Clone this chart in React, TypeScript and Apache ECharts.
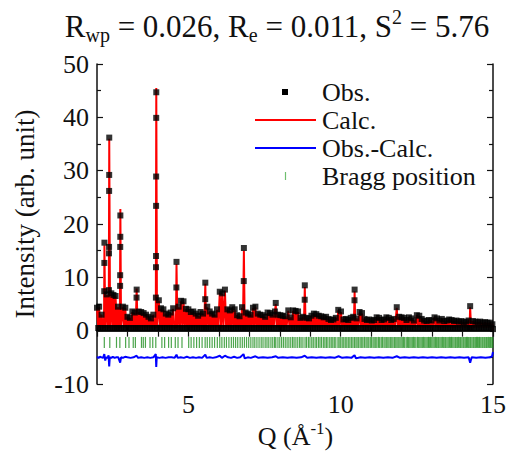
import React, { useEffect, useRef } from 'react';
import * as echarts from 'echarts';

const FONT = "'Liberation Serif', 'Times New Roman', serif";

const xRange = [2, 15];
const yRange = [-10, 50];
const xLabelValues = [5, 10, 15];
const braggLevel = -2.2;

// Observed intensity [Q, I]
const obsPoints: number[][] = [
  [2.00, 4.3], [2.04, 0.5], [2.07, 4.5], [2.11, 0.5], [2.15, 3.0], [2.19, 0.5],
  [2.238, 7.4], [2.241, 12.7], [2.244, 16.5], [2.27, 0.5],
  [2.32, 6.8], [2.35, 0.5],
  [2.392, 7.6], [2.394, 14.5], [2.396, 15.7], [2.398, 26.2], [2.400, 29.2], [2.402, 36.2], [2.43, 0.5],
  [2.47, 7.0], [2.51, 0.5], [2.54, 6.7], [2.58, 0.5], [2.61, 6.5], [2.65, 0.5], [2.69, 4.5], [2.72, 0.5],
  [2.759, 8.4], [2.761, 10.4], [2.763, 15.7], [2.765, 17.6], [2.767, 21.6], [2.79, 0.5],
  [2.85, 4.5], [2.89, 0.5], [2.93, 4.3], [2.96, 0.5], [3.00, 2.6], [3.04, 0.5], [3.08, 2.4], [3.12, 0.5],
  [3.16, 3.6], [3.20, 0.5], [3.24, 3.4], [3.27, 0.5],
  [3.298, 6.2], [3.302, 7.7], [3.33, 0.5],
  [3.37, 3.6], [3.41, 0.5], [3.45, 3.5], [3.49, 0.5], [3.53, 3.3], [3.57, 0.5], [3.61, 3.0], [3.65, 0.5],
  [3.69, 2.6], [3.73, 0.5], [3.77, 2.3], [3.81, 0.5], [3.85, 3.0], [3.89, 0.5],
  [3.934, 6.2], [3.936, 11.9], [3.938, 14.0], [3.940, 23.4], [3.942, 28.9], [3.944, 39.9], [3.946, 44.7], [3.97, 0.5],
  [4.03, 5.7], [4.07, 0.5], [4.10, 4.2], [4.14, 0.5], [4.18, 4.0], [4.22, 0.5], [4.26, 3.2], [4.30, 0.5],
  [4.34, 3.0], [4.38, 0.5], [4.42, 3.4], [4.46, 0.5], [4.50, 4.2], [4.54, 0.5],
  [4.606, 8.1], [4.610, 12.9], [4.64, 0.5],
  [4.68, 4.5], [4.72, 0.5], [4.76, 5.6], [4.80, 0.5], [4.84, 5.5], [4.88, 0.5], [4.92, 4.1], [4.96, 0.5],
  [5.00, 4.0], [5.04, 0.5], [5.08, 3.5], [5.12, 0.5], [5.16, 3.6], [5.20, 0.5], [5.24, 3.2], [5.28, 0.5],
  [5.32, 2.8], [5.36, 0.5], [5.40, 3.5], [5.44, 0.5], [5.48, 3.2], [5.52, 0.5],
  [5.553, 5.9], [5.556, 9.0], [5.58, 0.5],
  [5.62, 4.5], [5.66, 0.5], [5.70, 3.6], [5.74, 0.5], [5.78, 3.2], [5.82, 0.5], [5.86, 3.0], [5.90, 0.5],
  [5.94, 4.0], [5.98, 0.5], [6.03, 7.3], [6.07, 0.5], [6.11, 7.0], [6.15, 0.5], [6.20, 7.7], [6.24, 0.5],
  [6.28, 4.0], [6.32, 0.5], [6.36, 3.8], [6.40, 0.5], [6.44, 4.4], [6.48, 0.5], [6.52, 4.0], [6.56, 0.5],
  [6.60, 2.9], [6.64, 0.5], [6.68, 2.7], [6.72, 0.5], [6.76, 4.4], [6.79, 0.5],
  [6.818, 9.3], [6.822, 15.5], [6.85, 0.5],
  [6.88, 3.4], [6.92, 0.5], [6.96, 3.2], [7.00, 0.5], [7.04, 3.0], [7.08, 0.5], [7.12, 4.3], [7.16, 0.5],
  [7.20, 4.5], [7.24, 0.5], [7.28, 3.2], [7.32, 0.5], [7.36, 3.0], [7.40, 0.5], [7.44, 2.9], [7.48, 0.5],
  [7.52, 2.6], [7.56, 0.5], [7.60, 3.4], [7.64, 0.5], [7.68, 3.3], [7.72, 0.5], [7.76, 3.0], [7.80, 0.5],
  [7.84, 3.6], [7.868, 5.2], [7.90, 0.5], [7.94, 3.0], [7.98, 0.5], [8.02, 2.9], [8.06, 0.5], [8.10, 2.8],
  [8.14, 0.5], [8.18, 2.7], [8.22, 0.5], [8.28, 3.8], [8.32, 0.5], [8.36, 2.5], [8.40, 0.5], [8.44, 3.8],
  [8.48, 0.5], [8.52, 3.7], [8.56, 0.5], [8.60, 3.6], [8.64, 0.5], [8.68, 2.4], [8.72, 0.5], [8.76, 2.6], [8.79, 0.5],
  [8.818, 5.8], [8.822, 8.5], [8.85, 0.5],
  [8.88, 2.4], [8.92, 0.5], [8.96, 2.3], [9.00, 0.5], [9.04, 2.8], [9.08, 0.5], [9.12, 3.2], [9.16, 0.5],
  [9.20, 3.1], [9.24, 0.5], [9.28, 2.8], [9.32, 0.5], [9.36, 2.7], [9.40, 0.5], [9.44, 2.5], [9.48, 0.5],
  [9.52, 2.6], [9.56, 0.5], [9.60, 2.2], [9.64, 0.5], [9.68, 2.0], [9.72, 0.5], [9.76, 2.1], [9.80, 0.5],
  [9.84, 2.4], [9.88, 0.5], [9.92, 3.9], [9.96, 0.5], [10.01, 3.6], [10.05, 0.5], [10.09, 2.1], [10.13, 0.5],
  [10.17, 2.2], [10.21, 0.5], [10.25, 2.0], [10.29, 0.5], [10.33, 2.4], [10.37, 0.5], [10.41, 2.6], [10.43, 0.5],
  [10.453, 5.7], [10.457, 7.7], [10.48, 0.5],
  [10.52, 2.3], [10.56, 0.5], [10.62, 3.5], [10.66, 0.5], [10.70, 3.3], [10.74, 0.5], [10.78, 2.2], [10.82, 0.5],
  [10.86, 2.0], [10.90, 0.5], [10.94, 2.1], [10.98, 0.5], [11.02, 1.9], [11.06, 0.5], [11.10, 2.0], [11.14, 0.5],
  [11.18, 2.5], [11.22, 0.5], [11.26, 2.4], [11.30, 0.5], [11.34, 2.0], [11.38, 0.5], [11.42, 2.1], [11.46, 0.5],
  [11.50, 2.5], [11.54, 0.5], [11.58, 2.4], [11.62, 0.5], [11.66, 2.0], [11.70, 0.5], [11.74, 2.2], [11.78, 0.5],
  [11.84, 4.4], [11.88, 0.5], [11.92, 2.6], [11.96, 0.5], [12.00, 2.5], [12.04, 0.5], [12.08, 2.4], [12.12, 0.5],
  [12.16, 2.0], [12.20, 0.5], [12.24, 2.5], [12.28, 0.5], [12.32, 2.3], [12.36, 0.5], [12.40, 1.9], [12.44, 0.5],
  [12.50, 2.9], [12.54, 0.5], [12.58, 2.8], [12.62, 0.5], [12.66, 2.2], [12.70, 0.5], [12.74, 1.9], [12.78, 0.5],
  [12.82, 1.8], [12.86, 0.5], [12.90, 2.0], [12.94, 0.5], [12.98, 1.9], [13.02, 0.5], [13.08, 2.5], [13.12, 0.5],
  [13.16, 2.3], [13.20, 0.5], [13.24, 1.9], [13.28, 0.5], [13.32, 2.2], [13.36, 0.5], [13.40, 1.8], [13.44, 0.5],
  [13.48, 1.9], [13.52, 0.5], [13.56, 2.1], [13.60, 0.5], [13.64, 2.0], [13.68, 0.5], [13.72, 1.8], [13.76, 0.5],
  [13.80, 1.9], [13.84, 0.5], [13.88, 1.7], [13.92, 0.5], [13.96, 1.8], [14.00, 0.5], [14.04, 1.6], [14.08, 0.5],
  [14.12, 1.7], [14.16, 0.5], [14.20, 1.9], [14.23, 0.5], [14.25, 4.6], [14.28, 0.5], [14.34, 1.8], [14.38, 0.5],
  [14.42, 1.7], [14.46, 0.5], [14.50, 1.6], [14.54, 0.5], [14.58, 1.7], [14.62, 0.5], [14.66, 1.5], [14.70, 0.5],
  [14.74, 1.6], [14.78, 0.5], [14.82, 1.5], [14.86, 0.5], [14.90, 1.5], [14.94, 0.5], [14.98, 1.2], [15.00, 0.3],
];

// Calculated profile [Q, I]
const calcPoints: number[][] = [
  [2.00, 4.2], [2.04, 0.6], [2.07, 4.4], [2.11, 0.6], [2.15, 3.0], [2.19, 0.6],
  [2.23, 0.6], [2.244, 16.0], [2.27, 0.6],
  [2.32, 6.7], [2.35, 0.6],
  [2.385, 0.6], [2.402, 36.0], [2.43, 0.6],
  [2.47, 6.9], [2.51, 0.6], [2.54, 6.6], [2.58, 0.6], [2.61, 6.4], [2.65, 0.6], [2.69, 4.4], [2.72, 0.6],
  [2.75, 0.6], [2.767, 22.8], [2.79, 0.6],
  [2.85, 4.4], [2.89, 0.6], [2.93, 4.2], [2.96, 0.6], [3.00, 2.6], [3.04, 0.6], [3.08, 2.4], [3.12, 0.6],
  [3.16, 3.5], [3.20, 0.6], [3.24, 3.3], [3.27, 0.6],
  [3.302, 7.9], [3.33, 0.6],
  [3.37, 3.5], [3.41, 0.6], [3.45, 3.4], [3.49, 0.6], [3.53, 3.3], [3.57, 0.6], [3.61, 3.0], [3.65, 0.6],
  [3.69, 2.6], [3.73, 0.6], [3.77, 2.3], [3.81, 0.6], [3.85, 3.0], [3.89, 0.6],
  [3.93, 0.6], [3.946, 45.5], [3.97, 0.6],
  [4.03, 5.6], [4.07, 0.6], [4.10, 4.1], [4.14, 0.6], [4.18, 3.9], [4.22, 0.6], [4.26, 3.2], [4.30, 0.6],
  [4.34, 3.0], [4.38, 0.6], [4.42, 3.3], [4.46, 0.6], [4.50, 4.1], [4.54, 0.6],
  [4.59, 0.6], [4.610, 12.5], [4.64, 0.6],
  [4.68, 4.4], [4.72, 0.6], [4.76, 5.5], [4.80, 0.6], [4.84, 5.4], [4.88, 0.6], [4.92, 4.0], [4.96, 0.6],
  [5.00, 3.9], [5.04, 0.6], [5.08, 3.5], [5.12, 0.6], [5.16, 3.5], [5.20, 0.6], [5.24, 3.2], [5.28, 0.6],
  [5.32, 2.8], [5.36, 0.6], [5.40, 3.4], [5.44, 0.6], [5.48, 3.2], [5.52, 0.6],
  [5.556, 8.8], [5.58, 0.6],
  [5.62, 4.4], [5.66, 0.6], [5.70, 3.5], [5.74, 0.6], [5.78, 3.2], [5.82, 0.6], [5.86, 3.0], [5.90, 0.6],
  [5.94, 3.9], [5.98, 0.6], [6.03, 7.1], [6.07, 0.6], [6.11, 6.9], [6.15, 0.6], [6.20, 7.5], [6.24, 0.6],
  [6.28, 3.9], [6.32, 0.6], [6.36, 3.7], [6.40, 0.6], [6.44, 4.3], [6.48, 0.6], [6.52, 3.9], [6.56, 0.6],
  [6.60, 2.9], [6.64, 0.6], [6.68, 2.7], [6.72, 0.6], [6.76, 4.3], [6.79, 0.6],
  [6.822, 15.0], [6.85, 0.6],
  [6.88, 3.3], [6.92, 0.6], [6.96, 3.2], [7.00, 0.6], [7.04, 3.0], [7.08, 0.6], [7.12, 4.2], [7.16, 0.6],
  [7.20, 4.4], [7.24, 0.6], [7.28, 3.2], [7.32, 0.6], [7.36, 3.0], [7.40, 0.6], [7.44, 2.9], [7.48, 0.6],
  [7.52, 2.6], [7.56, 0.6], [7.60, 3.3], [7.64, 0.6], [7.68, 3.2], [7.72, 0.6], [7.76, 3.0], [7.80, 0.6],
  [7.84, 3.5], [7.868, 5.0], [7.90, 0.6], [7.94, 3.0], [7.98, 0.6], [8.02, 2.9], [8.06, 0.6], [8.10, 2.8],
  [8.14, 0.6], [8.18, 2.7], [8.22, 0.6], [8.28, 3.7], [8.32, 0.6], [8.36, 2.5], [8.40, 0.6], [8.44, 3.7],
  [8.48, 0.6], [8.52, 3.6], [8.56, 0.6], [8.60, 3.5], [8.64, 0.6], [8.68, 2.4], [8.72, 0.6], [8.76, 2.6], [8.79, 0.6],
  [8.822, 8.2], [8.85, 0.6],
  [8.88, 2.4], [8.92, 0.6], [8.96, 2.3], [9.00, 0.6], [9.04, 2.8], [9.08, 0.6], [9.12, 3.1], [9.16, 0.6],
  [9.20, 3.0], [9.24, 0.6], [9.28, 2.8], [9.32, 0.6], [9.36, 2.7], [9.40, 0.6], [9.44, 2.5], [9.48, 0.6],
  [9.52, 2.6], [9.56, 0.6], [9.60, 2.2], [9.64, 0.6], [9.68, 2.0], [9.72, 0.6], [9.76, 2.1], [9.80, 0.6],
  [9.84, 2.4], [9.88, 0.6], [9.92, 3.8], [9.96, 0.6], [10.01, 3.5], [10.05, 0.6], [10.09, 2.1], [10.13, 0.6],
  [10.17, 2.2], [10.21, 0.6], [10.25, 2.0], [10.29, 0.6], [10.33, 2.4], [10.37, 0.6], [10.41, 2.6], [10.43, 0.6],
  [10.457, 7.4], [10.48, 0.6],
  [10.52, 2.3], [10.56, 0.6], [10.62, 3.4], [10.66, 0.6], [10.70, 3.2], [10.74, 0.6], [10.78, 2.2], [10.82, 0.6],
  [10.86, 2.0], [10.90, 0.6], [10.94, 2.1], [10.98, 0.6], [11.02, 1.9], [11.06, 0.6], [11.10, 2.0], [11.14, 0.6],
  [11.18, 2.5], [11.22, 0.6], [11.26, 2.4], [11.30, 0.6], [11.34, 2.0], [11.38, 0.6], [11.42, 2.1], [11.46, 0.6],
  [11.50, 2.5], [11.54, 0.6], [11.58, 2.4], [11.62, 0.6], [11.66, 2.0], [11.70, 0.6], [11.74, 2.2], [11.78, 0.6],
  [11.84, 4.3], [11.88, 0.6], [11.92, 2.6], [11.96, 0.6], [12.00, 2.5], [12.04, 0.6], [12.08, 2.4], [12.12, 0.6],
  [12.16, 2.0], [12.20, 0.6], [12.24, 2.5], [12.28, 0.6], [12.32, 2.3], [12.36, 0.6], [12.40, 1.9], [12.44, 0.6],
  [12.50, 2.9], [12.54, 0.6], [12.58, 2.8], [12.62, 0.6], [12.66, 2.2], [12.70, 0.6], [12.74, 1.9], [12.78, 0.6],
  [12.82, 1.8], [12.86, 0.6], [12.90, 2.0], [12.94, 0.6], [12.98, 1.9], [13.02, 0.6], [13.08, 2.5], [13.12, 0.6],
  [13.16, 2.3], [13.20, 0.6], [13.24, 1.9], [13.28, 0.6], [13.32, 2.2], [13.36, 0.6], [13.40, 1.8], [13.44, 0.6],
  [13.48, 1.9], [13.52, 0.6], [13.56, 2.1], [13.60, 0.6], [13.64, 2.0], [13.68, 0.6], [13.72, 1.8], [13.76, 0.6],
  [13.80, 1.9], [13.84, 0.6], [13.88, 1.7], [13.92, 0.6], [13.96, 1.8], [14.00, 0.6], [14.04, 1.6], [14.08, 0.6],
  [14.12, 1.7], [14.16, 0.6], [14.20, 1.9], [14.23, 0.6], [14.25, 4.4], [14.28, 0.6], [14.34, 1.8], [14.38, 0.6],
  [14.42, 1.7], [14.46, 0.6], [14.50, 1.6], [14.54, 0.6], [14.58, 1.7], [14.62, 0.6], [14.66, 1.5], [14.70, 0.6],
  [14.74, 1.6], [14.78, 0.6], [14.82, 1.5], [14.86, 0.6], [14.90, 1.5], [14.94, 0.6], [14.98, 1.2], [15.00, 0.0],
];

// Difference curve (offset) [Q, I]
const diffPoints: number[][] = [
  [2.00, -4.9], [2.05, -5.1], [2.10, -4.9], [2.15, -5.0], [2.20, -5.1], [2.24, -4.4], [2.27, -5.6], [2.30, -5.0],
  [2.35, -5.1], [2.38, -4.6], [2.40, -6.7], [2.42, -5.0], [2.47, -5.1], [2.52, -4.9], [2.58, -5.1], [2.64, -5.0],
  [2.70, -5.0], [2.76, -6.0], [2.79, -5.0], [2.85, -5.1], [2.92, -4.9], [3.00, -5.0], [3.10, -5.1], [3.20, -5.0],
  [3.30, -4.7], [3.35, -5.1], [3.45, -5.0], [3.55, -5.1], [3.65, -5.0], [3.75, -5.1], [3.85, -5.0], [3.93, -4.4],
  [3.945, -6.8], [3.96, -5.0], [4.05, -5.1], [4.15, -5.0], [4.25, -5.1], [4.35, -5.0], [4.45, -5.0], [4.55, -5.1],
  [4.61, -4.5], [4.65, -5.1], [4.75, -5.0], [4.85, -5.1], [4.95, -4.9], [5.05, -5.1], [5.15, -5.0], [5.25, -5.1],
  [5.35, -5.0], [5.45, -5.1], [5.555, -4.5], [5.60, -5.1], [5.70, -5.0], [5.80, -5.1], [5.90, -5.0], [6.03, -4.7],
  [6.10, -5.1], [6.20, -4.7], [6.30, -5.0], [6.40, -5.1], [6.50, -4.9], [6.60, -5.1], [6.70, -5.0], [6.81, -4.4],
  [6.85, -5.2], [6.95, -5.0], [7.05, -5.1], [7.20, -4.8], [7.30, -5.1], [7.45, -5.0], [7.60, -5.1], [7.75, -5.0],
  [7.87, -4.8], [7.95, -5.1], [8.10, -5.0], [8.25, -5.1], [8.40, -5.0], [8.55, -5.1], [8.70, -5.0], [8.82, -4.7],
  [8.90, -5.1], [9.05, -5.0], [9.20, -5.1], [9.35, -5.0], [9.50, -5.1], [9.65, -5.0], [9.80, -5.1], [9.93, -4.8],
  [10.05, -5.1], [10.20, -5.0], [10.35, -5.1], [10.455, -4.6], [10.50, -5.2], [10.65, -5.0], [10.80, -5.1],
  [10.95, -5.0], [11.10, -5.1], [11.25, -5.0], [11.40, -5.1], [11.55, -5.0], [11.70, -5.1], [11.84, -4.8],
  [11.95, -5.1], [12.10, -5.0], [12.25, -5.1], [12.40, -5.0], [12.55, -5.1], [12.70, -5.0], [12.85, -5.1],
  [13.00, -5.0], [13.15, -5.1], [13.30, -5.0], [13.45, -5.1], [13.60, -5.0], [13.75, -5.1], [13.90, -5.0],
  [14.05, -5.1], [14.20, -5.0], [14.25, -6.0], [14.30, -5.0], [14.45, -5.1], [14.60, -5.0], [14.75, -5.1],
  [14.90, -5.0], [14.97, -4.8], [15.00, -4.0],
];

// Bragg reflection positions (Q)
const braggPositions: number[] = [
  2.24, 2.42, 2.64, 2.75, 2.94, 3.05, 3.19, 3.26, 3.46, 3.52, 3.59, 3.74, 3.83, 3.93, 4.13, 4.22, 4.35, 4.44,
  4.57, 4.66, 4.79, 5.01, 5.09, 5.18, 5.27, 5.36, 5.45, 5.55, 5.62, 5.70, 5.78, 5.86, 5.95, 6.03, 6.10, 6.18,
  6.25, 6.33, 6.41, 6.48, 6.55, 6.62, 6.70, 6.77, 6.84, 6.91, 6.98, 7.05, 7.12, 7.18, 7.25, 7.32, 7.39, 7.45,
  7.52, 7.58, 7.64, 7.71, 7.77, 7.83, 7.87, 7.94, 8.00, 8.06, 8.12, 8.18, 8.24, 8.30, 8.36, 8.42, 8.47, 8.53,
  8.59, 8.65, 8.70, 8.76, 8.83, 8.88, 8.94, 8.99, 9.05, 9.10, 9.16, 9.21, 9.27, 9.32, 9.37, 9.43, 9.48, 9.53,
  9.58, 9.64, 9.69, 9.74, 9.79, 9.84, 9.91, 9.95, 10.00, 10.05, 10.10, 10.15, 10.20, 10.25, 10.30, 10.35, 10.40,
  10.45, 10.50, 10.54, 10.59, 10.64, 10.69, 10.73, 10.78, 10.83, 10.87, 10.92, 10.97, 11.01, 11.06, 11.10, 11.15,
  11.19, 11.24, 11.28, 11.33, 11.37, 11.42, 11.46, 11.51, 11.55, 11.59, 11.64, 11.68, 11.72, 11.77, 11.81, 11.85,
  11.89, 11.94, 11.98, 12.02, 12.06, 12.10, 12.15, 12.19, 12.23, 12.27, 12.31, 12.35, 12.39, 12.43, 12.47, 12.52,
  12.56, 12.60, 12.64, 12.68, 12.72, 12.76, 12.80, 12.84, 12.88, 12.91, 12.95, 12.99, 13.03, 13.07, 13.11, 13.15,
  13.19, 13.22, 13.26, 13.30, 13.34, 13.38, 13.42, 13.45, 13.49, 13.53, 13.57, 13.61, 13.64, 13.68, 13.72, 13.76,
  13.79, 13.83, 13.87, 13.91, 13.94, 13.98, 14.02, 14.05, 14.09, 14.13, 14.16, 14.20, 14.24, 14.27, 14.31, 14.35,
  14.38, 14.42, 14.46, 14.49, 14.53, 14.56, 14.60, 14.64, 14.67, 14.71, 14.74, 14.78, 14.81, 14.85, 14.89, 14.92,
  14.96, 14.99,
];

const legendItems = ['Obs.', 'Calc.', 'Obs.-Calc.', 'Bragg position'];

export default function App() {
  const ref = useRef<HTMLDivElement>(null);
  useEffect(() => {
    if (!ref.current) return;
    const chart = echarts.init(ref.current, null, { renderer: 'svg' });
    const axisLine = { show: true, lineStyle: { color: '#111', width: 1.5 } };
    const labelStyle = { fontFamily: FONT, fontSize: 26, color: '#111' };
    const legendX = 322;
    const legendY = [92, 120, 148, 176];
    const txt = (s: string, y: number) => ({
      type: 'text', x: legendX, y,
      style: { text: s, font: `26px ${FONT}`, fill: '#111', textVerticalAlign: 'middle', verticalAlign: 'middle' },
    });
    chart.setOption({
      animation: false,
      backgroundColor: '#fff',
      grid: { left: 97, right: 15, top: 64, bottom: 70 },
      xAxis: [
        {
          type: 'value', min: xRange[0], max: xRange[1], interval: 1,
          axisLine, splitLine: { show: false },
          axisTick: { inside: true, length: 6, lineStyle: { color: '#111', width: 1.2 } },
          axisLabel: {
            ...labelStyle, margin: 7, showMinLabel: true, showMaxLabel: true,
            formatter: (v: number) => (xLabelValues.includes(v) ? String(v) : ''),
          },
        },
        {
          type: 'value', position: 'top', min: xRange[0], max: xRange[1], interval: 1,
          axisLine, splitLine: { show: false },
          axisTick: { inside: true, length: 6, lineStyle: { color: '#111', width: 1.2 } },
          axisLabel: { show: false },
        },
      ],
      yAxis: [
        {
          type: 'value', min: yRange[0], max: yRange[1], interval: 10,
          axisLine, splitLine: { show: false },
          axisTick: { inside: true, length: 6, lineStyle: { color: '#111', width: 1.2 } },
          minorTick: { show: true, splitNumber: 2, length: 4, lineStyle: { color: '#111', width: 1.2 } },
          minorSplitLine: { show: false },
          axisLabel: { ...labelStyle, margin: 8 },
        },
        {
          type: 'value', position: 'right', min: yRange[0], max: yRange[1], interval: 10,
          axisLine, splitLine: { show: false },
          axisTick: { inside: true, length: 6, lineStyle: { color: '#111', width: 1.2 } },
          minorTick: { show: true, splitNumber: 2, length: 4, lineStyle: { color: '#111', width: 1.2 } },
          axisLabel: { show: false },
        },
      ],
      series: [
        {
          name: legendItems[3], type: 'scatter', silent: true,
          symbol: 'rect', symbolSize: [1.2, 11],
          itemStyle: { color: '#1f8f1f' },
          data: braggPositions.map((q) => [q, braggLevel]),
          z: 2,
        },
        {
          name: legendItems[2], type: 'line', silent: true, showSymbol: false, symbol: 'none',
          lineStyle: { color: '#0000ff', width: 2 },
          data: diffPoints, z: 3,
        },
        {
          name: legendItems[1], type: 'line', silent: true, showSymbol: false, symbol: 'none',
          lineStyle: { color: '#ff0000', width: 2 },
          data: calcPoints, z: 4,
        },
        {
          name: legendItems[0], type: 'scatter', silent: true,
          symbol: 'rect', symbolSize: 6,
          itemStyle: { color: '#000' },
          data: obsPoints, z: 5,
        },
      ],
      graphic: [
        {
          type: 'text', x: 277, y: 26,
          style: {
            text: '{m|R}{s|wp}{m| = 0.026, R}{s|e}{m| = 0.011, S}{p|2}{m| = 5.76}',
            align: 'center', verticalAlign: 'middle', textAlign: 'center', textVerticalAlign: 'middle',
            rich: {
              m: { fontFamily: FONT, fontSize: 31, lineHeight: 38, fill: '#111', color: '#111' },
              s: { fontFamily: FONT, fontSize: 20, lineHeight: 32, verticalAlign: 'bottom', fill: '#111', color: '#111' },
              p: { fontFamily: FONT, fontSize: 20, lineHeight: 30, verticalAlign: 'top', fill: '#111', color: '#111' },
            },
          },
        },
        {
          type: 'text', x: 295.5, y: 436,
          style: {
            text: '{m|Q (Å}{p|-1}{m|)}',
            align: 'center', verticalAlign: 'middle', textAlign: 'center', textVerticalAlign: 'middle',
            rich: {
              m: { fontFamily: FONT, fontSize: 26, lineHeight: 32, fill: '#111', color: '#111' },
              p: { fontFamily: FONT, fontSize: 17, lineHeight: 24, verticalAlign: 'top', fill: '#111', color: '#111' },
            },
          },
        },
        {
          type: 'text', x: 25, y: 214, rotation: Math.PI / 2,
          style: {
            text: 'Intensity (arb. unit)', font: `27px ${FONT}`, fill: '#111',
            align: 'center', verticalAlign: 'middle', textAlign: 'center', textVerticalAlign: 'middle',
          },
        },
        { type: 'rect', shape: { x: 282, y: legendY[0] - 3, width: 6, height: 6 }, style: { fill: '#000' } },
        txt(legendItems[0], legendY[0]),
        { type: 'line', shape: { x1: 255, y1: legendY[1], x2: 316, y2: legendY[1] }, style: { stroke: '#ff0000', lineWidth: 2 } },
        txt(legendItems[1], legendY[1]),
        { type: 'line', shape: { x1: 255, y1: legendY[2], x2: 316, y2: legendY[2] }, style: { stroke: '#0000ff', lineWidth: 2 } },
        txt(legendItems[2], legendY[2]),
        { type: 'line', shape: { x1: 285.5, y1: legendY[3] - 4, x2: 285.5, y2: legendY[3] + 4 }, style: { stroke: '#6fbf6f', lineWidth: 1.2 } },
        txt(legendItems[3], legendY[3]),
      ],
    });
    return () => chart.dispose();
  }, []);
  return <div ref={ref} style={{ position: 'fixed', left: 0, top: 0, width: 509, height: 454 }} />;
}
